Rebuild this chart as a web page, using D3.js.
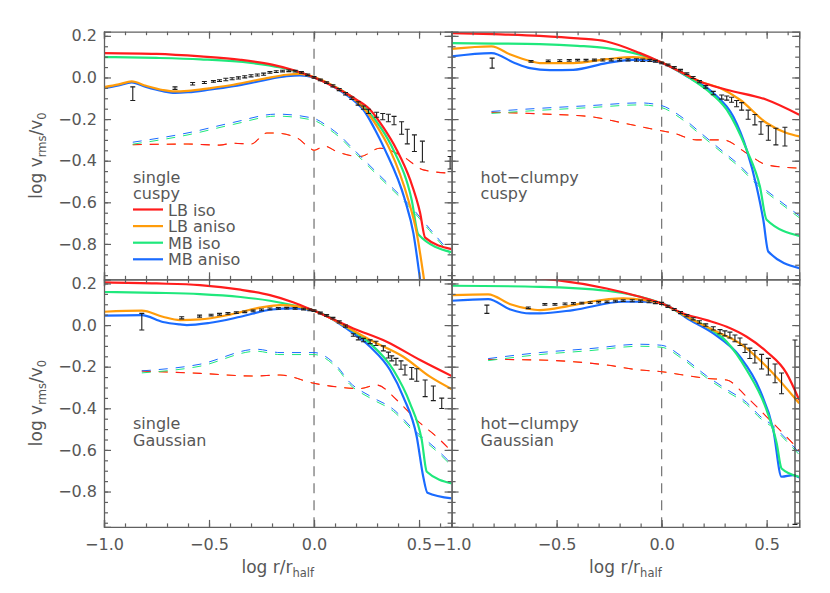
<!DOCTYPE html>
<html>
<head>
<meta charset="utf-8">
<title>log vrms/v0 profiles</title>
<style>
  body { margin: 0; background: #fff; }
  svg { display: block; }
  text { font-family: "DejaVu Sans", sans-serif; fill: #575757; }
</style>
</head>
<body>
<svg width="830" height="593"></svg>
<script src="https://d3js.org/d3.v7.min.js"></script>
<script>
// ---- data: [log r/rhalf, log vrms/v0] ----
// panel 1: single, cuspy
var p1LBiso = [[-1,0.117],[-0.75,0.113],[-0.54,0.101],[-0.35,0.085],[-0.2,0.062],[-0.1,0.036],[0,0.0],[0.1,-0.047],[0.2,-0.105],[0.267,-0.155],[0.33,-0.24],[0.394,-0.348],[0.457,-0.49],[0.505,-0.65],[0.529,-0.77],[0.655,-0.825]];
var p1LBaniso = [[-1,-0.046],[-0.93,-0.033],[-0.868,-0.019],[-0.8,-0.04],[-0.72,-0.06],[-0.662,-0.067],[-0.6,-0.064],[-0.5,-0.052],[-0.384,-0.035],[-0.3,-0.018],[-0.225,-0.003],[-0.13,0.013],[-0.067,0.017],[0,0.002],[0.1,-0.045],[0.2,-0.112],[0.243,-0.155],[0.3,-0.235],[0.362,-0.348],[0.449,-0.589],[0.489,-0.748],[0.524,-0.973],[0.535,-1.05]];
var p1MBiso = [[-1,0.098],[-0.75,0.094],[-0.54,0.087],[-0.3,0.07],[-0.16,0.048],[-0.08,0.028],[0,0.0],[0.1,-0.045],[0.2,-0.108],[0.251,-0.155],[0.32,-0.245],[0.378,-0.348],[0.465,-0.589],[0.497,-0.755],[0.655,-0.84]];
var p1MBaniso = [[-1,-0.052],[-0.93,-0.038],[-0.868,-0.024],[-0.8,-0.046],[-0.72,-0.066],[-0.662,-0.074],[-0.6,-0.071],[-0.5,-0.059],[-0.384,-0.042],[-0.3,-0.026],[-0.225,-0.01],[-0.13,0.006],[-0.067,0.01],[0,0.0],[0.1,-0.048],[0.2,-0.12],[0.235,-0.155],[0.29,-0.25],[0.338,-0.348],[0.433,-0.589],[0.473,-0.748],[0.505,-0.973],[0.515,-1.05]];
var p1LBdash = [[-0.863,-0.323],[-0.6,-0.32],[-0.45,-0.325],[-0.386,-0.316],[-0.3,-0.32],[-0.225,-0.267],[-0.186,-0.267],[-0.082,-0.29],[-0.019,-0.34],[0,-0.35],[0.05,-0.33],[0.108,-0.356],[0.219,-0.38],[0.314,-0.34],[0.424,-0.38],[0.52,-0.444],[0.648,-0.46]];
var p1MBdash = [[-0.863,-0.315],[-0.6,-0.27],[-0.385,-0.22],[-0.178,-0.18],[-0.003,-0.2],[0.06,-0.235],[0.124,-0.284],[0.187,-0.348],[0.314,-0.476],[0.457,-0.62],[0.55,-0.73],[0.648,-0.845]];
// observed profile [x, value, error]
var p1Obs = [[-0.863,-0.078,0.033],[-0.662,-0.051,0.006],[-0.578,-0.03,0.006],[-0.522,-0.024,0.005],[-0.479,-0.019,0.004],[-0.45,-0.015,0.004],[-0.42,-0.01,0.006],[-0.39,-0.006,0.005],[-0.36,-0.002,0.005],[-0.33,0.003,0.005],[-0.3,0.008,0.005],[-0.27,0.012,0.005],[-0.24,0.016,0.005],[-0.21,0.024,0.004],[-0.18,0.028,0.004],[-0.15,0.031,0.004],[-0.12,0.032,0.004],[-0.09,0.03,0.004],[-0.06,0.024,0.004],[-0.03,0.013,0.004],[0,0.0,0.004],[0.03,-0.012,0.004],[0.06,-0.025,0.004],[0.09,-0.04,0.005],[0.12,-0.058,0.005],[0.15,-0.078,0.006],[0.18,-0.1,0.006],[0.21,-0.125,0.008],[0.235,-0.145,0.008],[0.259,-0.163,0.01],[0.298,-0.179,0.012],[0.327,-0.188,0.015],[0.354,-0.195,0.018],[0.381,-0.207,0.02],[0.417,-0.243,0.03],[0.444,-0.284,0.035],[0.478,-0.316,0.04],[0.516,-0.356,0.05],[0.648,-0.41,0.03]];

// panel 2: hot-clumpy, cuspy
var p2LBiso = [[-1,0.213],[-0.8,0.208],[-0.58,0.2],[-0.4,0.188],[-0.262,0.173],[-0.103,0.117],[0,0.072],[0.087,0.029],[0.182,-0.019],[0.31,-0.059],[0.5,-0.107],[0.655,-0.179]];
var p2LBaniso = [[-1,0.137],[-0.81,0.149],[-0.72,0.11],[-0.619,0.077],[-0.58,0.069],[-0.421,0.069],[-0.262,0.088],[-0.135,0.098],[-0.05,0.088],[0,0.072],[0.087,0.03],[0.182,-0.019],[0.278,-0.051],[0.373,-0.107],[0.5,-0.219],[0.595,-0.267],[0.655,-0.283]];
var p2MBiso = [[-1,0.165],[-0.8,0.163],[-0.58,0.16],[-0.4,0.152],[-0.262,0.141],[-0.103,0.109],[0,0.072],[0.135,-0.003],[0.214,-0.059],[0.31,-0.155],[0.405,-0.348],[0.468,-0.524],[0.5,-0.684],[0.655,-0.761]];
var p2MBaniso = [[-1,0.101],[-0.81,0.117],[-0.7,0.07],[-0.627,0.045],[-0.532,0.035],[-0.421,0.037],[-0.262,0.069],[-0.135,0.085],[-0.05,0.082],[0,0.07],[0.135,-0.003],[0.246,-0.075],[0.341,-0.188],[0.405,-0.348],[0.452,-0.524],[0.484,-0.684],[0.508,-0.837],[0.655,-0.916]];
var p2LBdash = [[-0.81,-0.167],[-0.58,-0.175],[-0.341,-0.188],[-0.183,-0.219],[-0.024,-0.252],[0.055,-0.267],[0.167,-0.3],[0.293,-0.3],[0.405,-0.364],[0.5,-0.42],[0.655,-0.436]];
var p2MBdash = [[-0.81,-0.167],[-0.58,-0.152],[-0.341,-0.139],[-0.103,-0.126],[0,-0.139],[0.087,-0.188],[0.182,-0.267],[0.278,-0.348],[0.373,-0.428],[0.452,-0.508],[0.531,-0.572],[0.655,-0.668]];
var p2Obs = [[-0.807,0.069,0.024],[-0.622,0.077,0.004],[-0.54,0.08,0.004],[-0.485,0.081,0.004],[-0.44,0.082,0.004],[-0.4,0.083,0.004],[-0.36,0.083,0.004],[-0.32,0.084,0.004],[-0.28,0.084,0.005],[-0.24,0.085,0.005],[-0.2,0.085,0.005],[-0.16,0.085,0.005],[-0.12,0.084,0.006],[-0.09,0.083,0.006],[-0.056,0.082,0.005],[-0.03,0.078,0.004],[0,0.07,0.004],[0.03,0.06,0.004],[0.06,0.048,0.004],[0.09,0.035,0.004],[0.12,0.018,0.004],[0.15,0.0,0.005],[0.18,-0.02,0.005],[0.21,-0.045,0.006],[0.246,-0.075,0.008],[0.286,-0.094,0.01],[0.31,-0.099,0.01],[0.333,-0.107,0.012],[0.357,-0.126,0.015],[0.381,-0.139,0.018],[0.412,-0.179,0.022],[0.444,-0.203,0.025],[0.473,-0.243,0.03],[0.508,-0.267,0.035],[0.544,-0.284,0.04],[0.587,-0.284,0.045]];

// panel 3: single, Gaussian
var p3LBiso = [[-1,0.205],[-0.75,0.2],[-0.543,0.192],[-0.35,0.17],[-0.21,0.144],[-0.1,0.11],[0,0.069],[0.187,-0.016],[0.346,-0.08],[0.505,-0.168],[0.656,-0.245]];
var p3LBaniso = [[-1,0.064],[-0.82,0.069],[-0.72,0.04],[-0.638,0.024],[-0.543,0.027],[-0.4,0.05],[-0.25,0.085],[-0.162,0.096],[-0.08,0.09],[0,0.069],[0.154,-0.008],[0.267,-0.072],[0.425,-0.152],[0.552,-0.248],[0.656,-0.308]];
var p3MBiso = [[-1,0.159],[-0.75,0.155],[-0.543,0.149],[-0.35,0.135],[-0.21,0.117],[-0.1,0.095],[0,0.069],[0.154,-0.008],[0.267,-0.088],[0.378,-0.216],[0.457,-0.376],[0.513,-0.553],[0.537,-0.705],[0.656,-0.761]];
var p3MBaniso = [[-1,0.045],[-0.82,0.048],[-0.72,0.015],[-0.638,0.003],[-0.606,0.0],[-0.5,0.01],[-0.35,0.04],[-0.2,0.075],[-0.1,0.08],[0,0.069],[0.154,-0.016],[0.267,-0.104],[0.362,-0.216],[0.425,-0.345],[0.489,-0.537],[0.52,-0.729],[0.54,-0.806],[0.656,-0.833]];
var p3LBdash = [[-0.82,-0.221],[-0.543,-0.232],[-0.289,-0.245],[-0.162,-0.24],[0,-0.28],[0.108,-0.297],[0.219,-0.305],[0.298,-0.288],[0.394,-0.36],[0.489,-0.457],[0.584,-0.537],[0.649,-0.601]];
var p3MBdash = [[-0.82,-0.224],[-0.543,-0.192],[-0.273,-0.12],[-0.162,-0.136],[0,-0.136],[0.108,-0.2],[0.171,-0.28],[0.267,-0.345],[0.378,-0.409],[0.473,-0.505],[0.584,-0.601],[0.649,-0.665]];
var p3Obs = [[-0.82,0.016,0.04],[-0.63,0.035,0.005],[-0.545,0.043,0.005],[-0.49,0.048,0.004],[-0.45,0.052,0.004],[-0.41,0.056,0.004],[-0.37,0.06,0.004],[-0.33,0.064,0.004],[-0.29,0.068,0.004],[-0.25,0.073,0.004],[-0.21,0.078,0.004],[-0.17,0.08,0.004],[-0.13,0.081,0.004],[-0.09,0.08,0.004],[-0.05,0.077,0.004],[-0.02,0.073,0.004],[0,0.069,0.004],[0.03,0.058,0.004],[0.06,0.047,0.004],[0.09,0.033,0.004],[0.12,0.015,0.005],[0.15,-0.005,0.005],[0.187,-0.048,0.006],[0.211,-0.064,0.007],[0.235,-0.072,0.008],[0.267,-0.08,0.009],[0.295,-0.088,0.01],[0.33,-0.112,0.012],[0.354,-0.144,0.014],[0.37,-0.16,0.012],[0.39,-0.176,0.016],[0.414,-0.192,0.02],[0.433,-0.216,0.024],[0.465,-0.232,0.028],[0.489,-0.24,0.03],[0.529,-0.304,0.04],[0.568,-0.328,0.035],[0.608,-0.376,0.025]];

// panel 4: hot-clumpy, Gaussian
var p4LBiso = [[-1,0.245],[-0.75,0.235],[-0.5,0.216],[-0.262,0.176],[-0.103,0.136],[0,0.104],[0.103,0.056],[0.214,0.024],[0.31,-0.008],[0.405,-0.056],[0.5,-0.128],[0.595,-0.232],[0.655,-0.36]];
var p4LBaniso = [[-1,0.144],[-0.826,0.148],[-0.72,0.1],[-0.643,0.08],[-0.58,0.072],[-0.45,0.09],[-0.341,0.112],[-0.183,0.128],[-0.08,0.12],[0,0.104],[0.135,0.032],[0.246,-0.024],[0.373,-0.088],[0.5,-0.2],[0.655,-0.376]];
var p4MBiso = [[-1,0.189],[-0.58,0.184],[-0.262,0.165],[-0.103,0.136],[0,0.104],[0.135,0.032],[0.214,-0.008],[0.31,-0.08],[0.405,-0.216],[0.5,-0.409],[0.548,-0.569],[0.571,-0.689],[0.655,-0.729]];
var p4MBaniso = [[-1,0.117],[-0.826,0.125],[-0.72,0.075],[-0.627,0.056],[-0.58,0.056],[-0.421,0.072],[-0.183,0.112],[-0.08,0.112],[0,0.104],[0.135,0.024],[0.246,-0.04],[0.373,-0.152],[0.468,-0.313],[0.532,-0.505],[0.571,-0.729],[0.627,-0.721],[0.655,-0.733]];
var p4LBdash = [[-0.826,-0.165],[-0.58,-0.168],[-0.262,-0.192],[-0.103,-0.216],[0,-0.224],[0.103,-0.24],[0.214,-0.256],[0.31,-0.264],[0.405,-0.345],[0.5,-0.441],[0.595,-0.537],[0.655,-0.601]];
var p4MBdash = [[-0.826,-0.165],[-0.58,-0.136],[-0.341,-0.117],[-0.103,-0.096],[0,-0.101],[0.103,-0.16],[0.214,-0.248],[0.31,-0.313],[0.405,-0.376],[0.468,-0.441],[0.532,-0.489],[0.595,-0.553],[0.655,-0.617]];
var p4Obs = [[-0.832,0.076,0.02],[-0.635,0.083,0.004],[-0.556,0.1,0.004],[-0.508,0.1,0.004],[-0.46,0.102,0.004],[-0.42,0.104,0.004],[-0.38,0.106,0.004],[-0.34,0.108,0.004],[-0.3,0.11,0.004],[-0.26,0.112,0.004],[-0.22,0.115,0.004],[-0.183,0.117,0.004],[-0.14,0.117,0.005],[-0.1,0.115,0.005],[-0.06,0.112,0.005],[-0.03,0.108,0.005],[0,0.104,0.005],[0.03,0.09,0.005],[0.06,0.075,0.005],[0.09,0.06,0.005],[0.12,0.045,0.005],[0.15,0.03,0.005],[0.18,0.015,0.006],[0.21,0.0,0.006],[0.246,-0.016,0.008],[0.278,-0.032,0.01],[0.301,-0.04,0.012],[0.325,-0.048,0.014],[0.349,-0.064,0.016],[0.373,-0.08,0.018],[0.397,-0.112,0.02],[0.42,-0.136,0.025],[0.444,-0.152,0.03],[0.476,-0.176,0.035],[0.508,-0.2,0.04],[0.54,-0.232,0.045],[0.571,-0.28,0.05],[0.635,-0.515,0.443]];

var xDomain = [-1, 0.655];
var yDomain = [-0.97, 0.22];
var yMajor = [0.2, 0.0, -0.2, -0.4, -0.6, -0.8];
var xMajor = [-1.0, -0.5, 0.0, 0.5];
var seriesNames = ["LB iso", "LB aniso", "MB iso", "MB aniso"];
var seriesColors = ["#ff1c1c", "#ff9c0a", "#1fe87c", "#1a6bff"];

var panels = [
  {col: 0, row: 0, text: ["single", "cuspy"], legend: true, lines: [p1LBiso, p1LBaniso, p1MBiso, p1MBaniso], lbDash: p1LBdash, mbDash: p1MBdash, obs: p1Obs},
  {col: 1, row: 0, text: ["hot\u2212clumpy", "cuspy"], legend: false, lines: [p2LBiso, p2LBaniso, p2MBiso, p2MBaniso], lbDash: p2LBdash, mbDash: p2MBdash, obs: p2Obs},
  {col: 0, row: 1, text: ["single", "Gaussian"], legend: false, lines: [p3LBiso, p3LBaniso, p3MBiso, p3MBaniso], lbDash: p3LBdash, mbDash: p3MBdash, obs: p3Obs},
  {col: 1, row: 1, text: ["hot\u2212clumpy", "Gaussian"], legend: false, lines: [p4LBiso, p4LBaniso, p4MBiso, p4MBaniso], lbDash: p4LBdash, mbDash: p4MBdash, obs: p4Obs}
];

var svg = d3.select("svg");
var marginLeft = 104, marginTop = 31.7, pw = 347.6, ph = 247.6;
var axisColor = "#606060";

panels.forEach(function(p, i) {
  var x0 = marginLeft + p.col * pw, y0 = marginTop + p.row * ph;
  var x = d3.scaleLinear().domain(xDomain).range([x0, x0 + pw]);
  var y = d3.scaleLinear().domain(yDomain).range([y0 + ph, y0]);

  var clipId = "clip" + i;
  svg.append("clipPath").attr("id", clipId)
    .append("rect").attr("x", x0).attr("y", y0).attr("width", pw).attr("height", ph);

  var g = svg.append("g");
  var plot = g.append("g").attr("clip-path", "url(#" + clipId + ")");

  // vertical dashed line at log r/rhalf = 0
  plot.append("line")
    .attr("x1", x(0)).attr("x2", x(0)).attr("y1", y0).attr("y2", y0 + ph)
    .attr("stroke", "#7a7a7a").attr("stroke-width", 1.3).attr("stroke-dasharray", "10,7");

  var line = d3.line().x(function(d) { return x(d[0]); }).y(function(d) { return y(d[1]); })
    .curve(d3.curveMonotoneX);

  // dashed model curves (LB pair: orange hidden under red; MB pair: green and blue side by side)
  plot.append("path").datum(p.lbDash).attr("d", line).attr("fill", "none")
    .attr("stroke", seriesColors[1]).attr("stroke-width", 1).attr("stroke-dasharray", "9,8");
  plot.append("path").datum(p.lbDash).attr("d", line).attr("fill", "none")
    .attr("stroke", seriesColors[0]).attr("stroke-width", 1.1).attr("stroke-dasharray", "9,8");
  plot.append("path").datum(p.mbDash).attr("d", line).attr("fill", "none")
    .attr("stroke", seriesColors[2]).attr("stroke-width", 1).attr("stroke-dasharray", "9,8")
    .attr("transform", "translate(0,1.2)");
  plot.append("path").datum(p.mbDash).attr("d", line).attr("fill", "none")
    .attr("stroke", seriesColors[3]).attr("stroke-width", 1).attr("stroke-dasharray", "9,8")
    .attr("transform", "translate(0,-0.8)");

  // solid model curves
  [3, 2, 1, 0].forEach(function(k) {
    plot.append("path").datum(p.lines[k]).attr("d", line).attr("fill", "none")
      .attr("stroke", seriesColors[k]).attr("stroke-width", 2.2);
  });

  // observed profile with error bars
  var obs = plot.append("g").attr("stroke", "#1e1e1e").attr("stroke-width", 1.1);
  p.obs.forEach(function(d) {
    var xx = x(d[0]), yt = y(d[1] + d[2]), yb = y(d[1] - d[2]);
    obs.append("line").attr("x1", xx).attr("x2", xx).attr("y1", yt).attr("y2", yb);
    obs.append("line").attr("x1", xx - 2.5).attr("x2", xx + 2.5).attr("y1", yt).attr("y2", yt);
    obs.append("line").attr("x1", xx - 2.5).attr("x2", xx + 2.5).attr("y1", yb).attr("y2", yb);
  });

  // axes: inward ticks on all four sides
  function styleAxis(sel) {
    sel.selectAll("path").attr("stroke", axisColor).attr("stroke-width", 1.3);
    sel.selectAll("line").attr("stroke", axisColor).attr("stroke-width", 1.2);
    sel.selectAll("text").attr("font-size", 16).attr("fill", "#575757")
      .attr("font-family", "DejaVu Sans, sans-serif");
  }
  var yMinor = d3.range(-19, 5).map(function(k) { return k * 0.05; });
  var xMinor = d3.range(-10, 7).map(function(k) { return k * 0.1; });
  var fmt = function(d) { return d3.format(".1f")(d); };

  var ax = g.append("g").attr("transform", "translate(" + x0 + ",0)")
    .call(d3.axisLeft(y).tickValues(yMajor).tickSize(-7).tickPadding(7)
      .tickFormat(p.col === 0 ? fmt : function() { return ""; }));
  styleAxis(ax);
  var axm = g.append("g").attr("transform", "translate(" + x0 + ",0)")
    .call(d3.axisLeft(y).tickValues(yMinor).tickSize(-4).tickFormat(""));
  styleAxis(axm); axm.select(".domain").remove();

  var ar = g.append("g").attr("transform", "translate(" + (x0 + pw) + ",0)")
    .call(d3.axisRight(y).tickValues(yMajor).tickSize(-7).tickFormat(""));
  styleAxis(ar);
  var arm = g.append("g").attr("transform", "translate(" + (x0 + pw) + ",0)")
    .call(d3.axisRight(y).tickValues(yMinor).tickSize(-4).tickFormat(""));
  styleAxis(arm); arm.select(".domain").remove();

  var ab = g.append("g").attr("transform", "translate(0," + (y0 + ph) + ")")
    .call(d3.axisBottom(x).tickValues(xMajor).tickSize(-7).tickPadding(12)
      .tickFormat(p.row === 1 ? fmt : function() { return ""; }));
  styleAxis(ab);
  var abm = g.append("g").attr("transform", "translate(0," + (y0 + ph) + ")")
    .call(d3.axisBottom(x).tickValues(xMinor).tickSize(-3.5).tickFormat(""));
  styleAxis(abm); abm.select(".domain").remove();

  var at = g.append("g").attr("transform", "translate(0," + y0 + ")")
    .call(d3.axisTop(x).tickValues(xMajor).tickSize(-7).tickFormat(""));
  styleAxis(at);
  var atm = g.append("g").attr("transform", "translate(0," + y0 + ")")
    .call(d3.axisTop(x).tickValues(xMinor).tickSize(-3.5).tickFormat(""));
  styleAxis(atm); atm.select(".domain").remove();

  // panel annotation, two lines in one text block
  var tx = x0 + 29, ty = y0 + (p.row === 0 ? 151 : 150);
  var note = g.append("text").attr("x", tx).attr("y", ty).attr("font-size", 16);
  note.append("tspan").attr("x", tx).text(p.text[0]);
  note.append("tspan").attr("x", tx).attr("dy", 16.3).text(p.text[1]);

  if (p.legend) {
    var leg = g.append("text").attr("x", tx + 35).attr("y", ty + 32.8).attr("font-size", 16);
    seriesNames.forEach(function(name, k) {
      var ly = ty + 32.8 + k * 16.6;
      g.append("line").attr("x1", tx).attr("x2", tx + 30).attr("y1", ly - 6).attr("y2", ly - 6)
        .attr("stroke", seriesColors[k]).attr("stroke-width", 2.2);
      leg.append("tspan").attr("x", tx + 35).attr("dy", k === 0 ? 0 : 16.6).text(name);
    });
  }

  // axis titles
  if (p.row === 1) {
    var xt = g.append("text").attr("x", x0 + pw / 2).attr("y", 573).attr("text-anchor", "middle")
      .attr("font-size", 17);
    xt.append("tspan").text("log r/r");
    xt.append("tspan").attr("font-size", 11.5).attr("dy", 4).text("half");
  }
  if (p.col === 0) {
    var yt = g.append("text").attr("transform", "translate(42," + (y0 + ph / 2) + ") rotate(-90)")
      .attr("text-anchor", "middle").attr("font-size", 17);
    yt.append("tspan").text("log v");
    yt.append("tspan").attr("font-size", 11.5).attr("dy", 4).text("rms");
    yt.append("tspan").attr("dy", -4).text("/v");
    yt.append("tspan").attr("font-size", 11.5).attr("dy", 4).text("0");
  }
});
</script>
</body>
</html>
